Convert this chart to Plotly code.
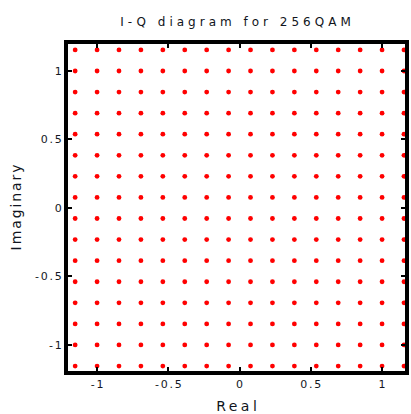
import plotly.graph_objects as go

# 256QAM constellation levels (normalized by 13)
levels = [-15/13, -13/13, -11/13, -9/13, -7/13, -5/13, -3/13, -1/13,
          1/13, 3/13, 5/13, 7/13, 9/13, 11/13, 13/13, 15/13]
tick_vals = [-1, -0.5, 0, 0.5, 1]
tick_text = ["-1", "-0.5", "0", "0.5", "1"]

real_vals = [r for q in levels for r in levels]
imag_vals = [q for q in levels for r in levels]

fig = go.Figure()
fig.add_trace(go.Scatter(
    x=real_vals, y=imag_vals, mode="markers",
    marker=dict(color="#ff0000", size=4.8, line=dict(width=0)),
    showlegend=False,
))

FONT = "DejaVu Sans"

axis_common = dict(
    showline=True, linewidth=4, linecolor="black", mirror="ticks",
    ticks="inside", ticklen=4, tickwidth=2, tickcolor="black",
    showgrid=False, zeroline=False, automargin=False,
    tickfont=dict(family=FONT, size=11, color="#141824"),
    tickvals=tick_vals, ticktext=tick_text,
)

fig.update_layout(
    width=411, height=414,
    margin=dict(l=68, r=6, t=44, b=43, autoexpand=False),
    paper_bgcolor="white", plot_bgcolor="white",
    title=dict(text="I-Q diagram for 256QAM", x=0.573, xanchor="center",
               y=0.948, yanchor="middle", automargin=False,
               font=dict(family=FONT, size=12, color="#101420")),
    xaxis=dict(range=[-1.204, 1.161],
               title=dict(text="Real", standoff=15,
                          font=dict(family=FONT, size=14, color="#101420")),
               **axis_common),
    yaxis=dict(range=[-1.19, 1.197],
               title=dict(text="Imaginary", standoff=16,
                          font=dict(family=FONT, size=14, color="#101420")),
               **axis_common),
)

post = """
var gd = document.getElementById('{plot_id}');
function sp(sel, v, dx){
  gd.querySelectorAll(sel).forEach(function(t){
    t.style.letterSpacing = v + 'px';
    if (dx) { t.setAttribute('dx', dx); }
  });
}
sp('.gtitle', 4.0, 2.0);
sp('.xtitle', 3.5, 1.75);
sp('.ytitle', 1.9, 0.95);
sp('.xtick text', 1.8, 0.9);
sp('.ytick text', 1.8, 1.8);
"""

fig.write_html("out.html", post_script=post)
